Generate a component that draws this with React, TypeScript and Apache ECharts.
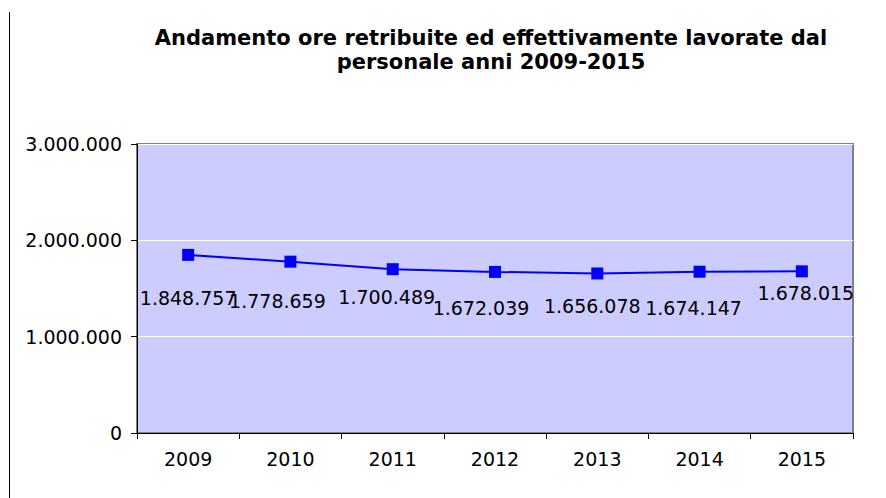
import React, { useEffect, useRef } from "react";
import * as echarts from "echarts";

const years = ["2009", "2010", "2011", "2012", "2013", "2014", "2015"];
const hours = [1848757, 1778659, 1700489, 1672039, 1656078, 1674147, 1678015];
const labelOffsets: [number, number][] = [
  [0, 43], [-13, 39], [-6, 28], [-14, 36], [-5, 33], [-6, 36], [4, 22],
];
const yTicks = [0, 1000000, 2000000, 3000000];

const fmt = (v: number) => String(Math.round(v)).replace(/\B(?=(\d{3})+(?!\d))/g, ".");

export default function App() {
  const ref = useRef<HTMLDivElement>(null);
  useEffect(() => {
    if (!ref.current) return;
    const chart = echarts.init(ref.current, undefined, { renderer: "svg" });
    const font = "DejaVu Sans, Verdana, sans-serif";
    chart.setOption({
      animation: false,
      backgroundColor: "#ffffff",
      title: {
        text: "Andamento ore retribuite ed effettivamente lavorate dal\npersonale anni 2009-2015",
        left: 486,
        textAlign: "center",
        top: 21,
        textStyle: {
          fontFamily: "DejaVu Sans, sans-serif",
          fontWeight: "bold",
          fontSize: 21,
          lineHeight: 24,
          color: "#000000",
        },
      },
      graphic: [
        {
          type: "line",
          shape: { x1: 9.5, y1: 12, x2: 9.5, y2: 498 },
          style: { stroke: "#000000", lineWidth: 1 },
        },
      ],
      grid: {
        left: 137,
        right: 33,
        top: 144,
        bottom: 65,
        show: true,
        backgroundColor: "#CCCCFF",
        borderColor: "#808080",
        borderWidth: 2,
      },
      xAxis: {
        type: "category",
        data: years,
        boundaryGap: true,
        axisLine: { show: true, lineStyle: { color: "#000000", width: 1 } },
        axisTick: { show: true, length: 6, lineStyle: { color: "#000000" } },
        axisLabel: { color: "#000000", fontFamily: font, fontSize: 19, margin: 16 },
        splitLine: { show: false },
      },
      yAxis: {
        type: "value",
        min: yTicks[0],
        max: yTicks[yTicks.length - 1],
        interval: yTicks[1] - yTicks[0],
        axisLine: { show: true, lineStyle: { color: "#000000", width: 1 } },
        axisTick: { show: true, length: 6, lineStyle: { color: "#000000" } },
        axisLabel: {
          color: "#000000",
          fontFamily: font,
          fontSize: 19,
          margin: 15,
          formatter: (v: number) => fmt(v),
        },
        splitLine: { show: true, lineStyle: { color: "#ffffff", width: 1 } },
      },
      series: [
        {
          type: "line",
          data: hours.map((v, i) => ({
            value: v,
            label: { offset: labelOffsets[i] },
          })),
          symbol: "rect",
          symbolSize: 12,
          lineStyle: { color: "#0000FF", width: 2 },
          itemStyle: { color: "#0000FF" },
          label: {
            show: true,
            position: "inside",
            color: "#000000",
            fontFamily: font,
            fontSize: 19,
            formatter: (p: any) => fmt(p.value),
          },
          z: 5,
        },
      ],
    });
    return () => chart.dispose();
  }, []);
  return <div ref={ref} style={{ width: 886, height: 498, position: "absolute", left: 0, top: 0 }} />;
}
